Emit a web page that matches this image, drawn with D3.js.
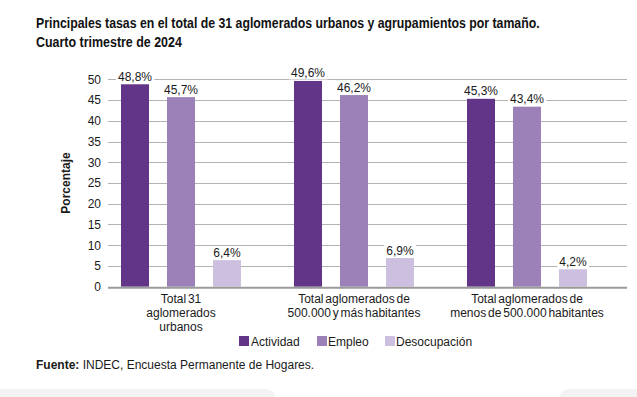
<!DOCTYPE html>
<html>
<head>
<meta charset="utf-8">
<script src="https://cdn.jsdelivr.net/npm/d3@7"></script>
<style>
  body { margin: 0; background: #fff; }
  svg { display: block; }
  text { font-family: "Liberation Sans", Arial, sans-serif; fill: #1a1a1a; }
</style>
</head>
<body>
<svg id="chart" width="637" height="397"></svg>
<script>
const categories = [
  ["Total 31", "aglomerados", "urbanos"],
  ["Total aglomerados de", "500.000 y más habitantes"],
  ["Total aglomerados de", "menos de 500.000 habitantes"]
];
const seriesNames = ["Actividad", "Empleo", "Desocupación"];
const actividad = [48.8, 49.6, 45.3];
const empleo = [45.7, 46.2, 43.4];
const desocupacion = [6.4, 6.9, 4.2];
const yTicks = [0, 5, 10, 15, 20, 25, 30, 35, 40, 45, 50];
const colors = ["#633589", "#9c81b8", "#cdbfdf"];
const titleLines = [
  "Principales tasas en el total de 31 aglomerados urbanos y agrupamientos por tamaño.",
  "Cuarto trimestre de 2024"
];
const titleWidths = [504, 146];

const seriesValues = [actividad, empleo, desocupacion];
const svg = d3.select("#chart");

// decorative bottom shapes
svg.append("rect").attr("x", -20).attr("y", 389).attr("width", 296).attr("height", 30).attr("rx", 10).attr("fill", "#f3f3f3");
svg.append("rect").attr("x", 559).attr("y", 389).attr("width", 100).attr("height", 30).attr("rx", 10).attr("fill", "#f3f3f3");

// title (condensed bold via horizontal scale)
titleLines.forEach((line, i) => {
  const g = svg.append("g");
  const t = g.append("text")
    .attr("x", 0).attr("y", 0)
    .style("font-weight", "bold").style("font-size", "15.5px")
    .style("fill", "#111")
    .text(line);
  const w = t.node().getComputedTextLength();
  const sx = titleWidths[i] / w;
  g.attr("transform", `translate(36,${28 + i * 18.5}) scale(${sx},1)`);
});

const mLeft = 108, mRight = 627, mTop = 79.3, mBottom = 286.7;
const y = d3.scaleLinear().domain([0, 50]).range([mBottom, mTop]);
const x0 = d3.scaleBand().domain(d3.range(categories.length)).range([94.5, 613.5]).padding(0);
const groupW = 120;
const x1 = d3.scaleBand().domain(seriesNames).range([0, groupW]).paddingInner(18 / 46).paddingOuter(0);

// gridlines
svg.append("g").selectAll("line").data(yTicks.filter(t => t > 0)).join("line")
  .attr("x1", mLeft).attr("x2", mRight)
  .attr("y1", d => Math.round(y(d)) + 0.5).attr("y2", d => Math.round(y(d)) + 0.5)
  .attr("stroke", "#b3b3b3").attr("stroke-width", 1);

// y axis labels
const yAxis = d3.axisLeft(y).tickValues(yTicks).tickSize(0).tickPadding(0);
const gy = svg.append("g").attr("transform", `translate(101,0)`).call(yAxis);
gy.select(".domain").remove();
gy.selectAll("text").style("font-size", "12px").style("font-family", "'Liberation Sans', Arial, sans-serif").attr("fill", "#1a1a1a");

// axis title
svg.append("text")
  .attr("transform", `translate(70,183) rotate(-90)`)
  .attr("text-anchor", "middle")
  .style("font-weight", "bold").style("font-size", "12px")
  .text("Porcentaje");

// bars
const groups = svg.append("g").selectAll("g").data(categories.map((c, i) => i)).join("g")
  .attr("transform", i => `translate(${x0(i) + x0.bandwidth() / 2 - groupW / 2},0)`);

const barData = i => seriesNames.map((s, k) => ({ s, k, v: seriesValues[k][i] }));

groups.selectAll("rect.bar").data(i => barData(i)).join("rect")
  .attr("class", "bar")
  .attr("x", d => x1(d.s)).attr("width", x1.bandwidth())
  .attr("y", d => y(d.v)).attr("height", d => mBottom - y(d.v))
  .attr("fill", d => colors[d.k]);

// baseline
svg.append("line").attr("x1", mLeft).attr("x2", mRight)
  .attr("y1", mBottom + 1).attr("y2", mBottom + 1)
  .attr("stroke", "#9a9a9a").attr("stroke-width", 2);

// value labels with white background
const fmt = v => v.toFixed(1).replace(".", ",") + "%";
groups.each(function (i) {
  const g = d3.select(this);
  barData(i).forEach(d => {
    const cx = x1(d.s) + x1.bandwidth() / 2;
    const t = g.append("text")
      .attr("x", cx).attr("y", y(d.v) - 3.5)
      .attr("text-anchor", "middle")
      .style("font-size", "12px")
      .text(fmt(d.v));
    const bb = t.node().getBBox();
    g.insert("rect", () => t.node())
      .attr("x", bb.x - 2).attr("y", bb.y + 1).attr("width", bb.width + 4).attr("height", bb.height - 2)
      .attr("fill", "#fff");
  });
});

// category labels
svg.append("g").selectAll("text").data(categories).join("text")
  .attr("text-anchor", "middle")
  .style("font-size", "12px")
  .style("word-spacing", "-1.5px")
  .attr("transform", (d, i) => `translate(${x0(i) + x0.bandwidth() / 2},0)`)
  .each(function (lines) {
    d3.select(this).selectAll("tspan").data(lines).join("tspan")
      .attr("x", 0).attr("y", (d, j) => 302.5 + j * 14)
      .text(d => d);
  });

// legend
const legendItems = [
  { name: seriesNames[0], sx: 239, tx: 251 },
  { name: seriesNames[1], sx: 317, tx: 328 },
  { name: seriesNames[2], sx: 385, tx: 396 }
];
const lg = svg.append("g");
legendItems.forEach((d, k) => {
  lg.append("rect").attr("x", d.sx).attr("y", 336).attr("width", 10).attr("height", 10).attr("fill", colors[k]);
  lg.append("text").attr("x", d.tx).attr("y", 345.5).style("font-size", "12px").text(d.name);
});

// source
const src = svg.append("text").attr("x", 36).attr("y", 369).style("font-size", "12px");
src.append("tspan").style("font-weight", "bold").text("Fuente:");
src.append("tspan").text(" INDEC, Encuesta Permanente de Hogares.");
</script>
</body>
</html>
